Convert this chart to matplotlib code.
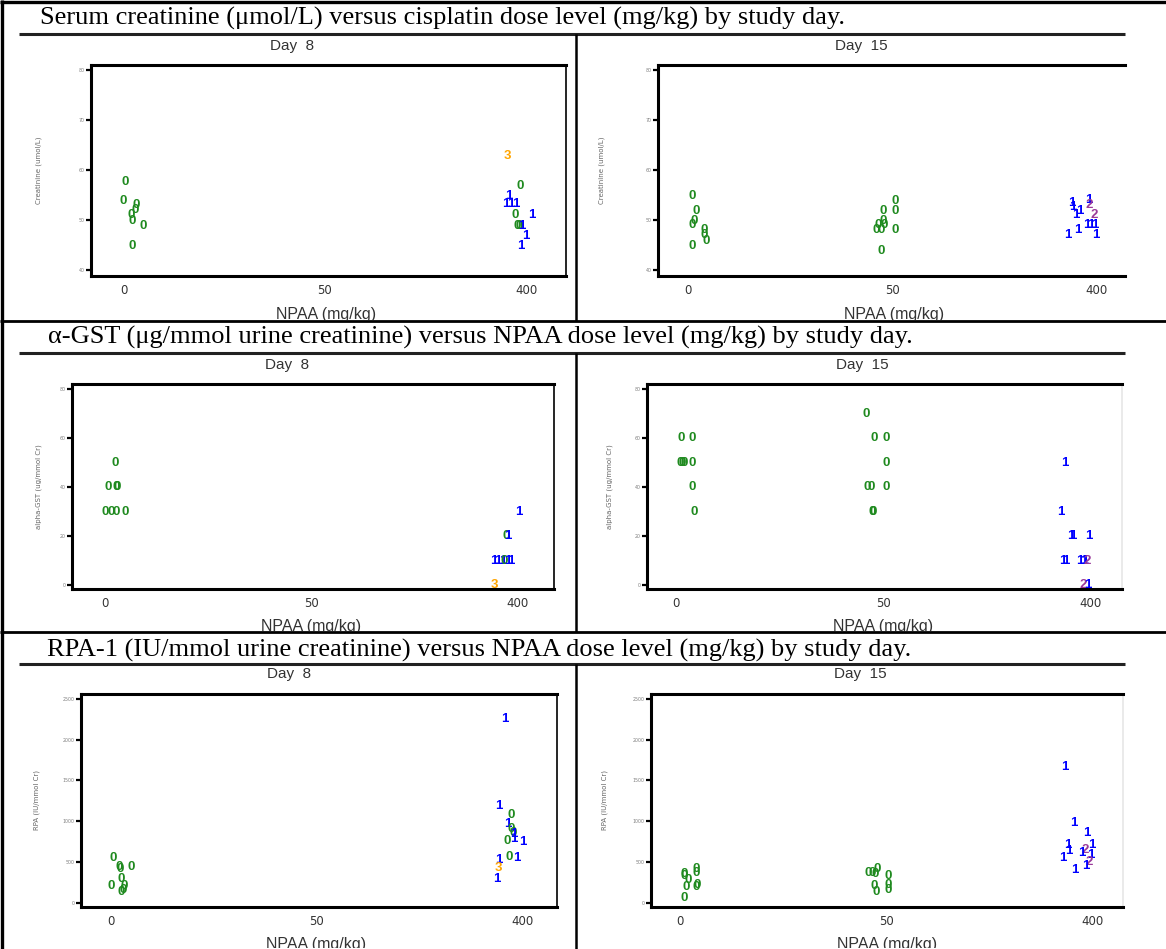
import matplotlib
matplotlib.use("Agg")
import matplotlib.pyplot as plt
from matplotlib.lines import Line2D
from matplotlib.transforms import Bbox, TransformedBbox

W, H = 1166, 949

doses = ["0", "50", "400"]
colours = {0: "#1f8a1f", 1: "#0000ff", 2: "#9a3b9a", 3: "#ffa500"}

captions = [
    "Serum creatinine (\u03bcmol/L) versus cisplatin dose level (mg/kg) by study day.",
    "\u03b1-GST (\u03bcg/mmol urine creatinine) versus NPAA dose level (mg/kg) by study day.",
    "RPA-1 (IU/mmol urine creatinine) versus NPAA dose level (mg/kg) by study day.",
]
ylabels = ["Creatinine (umol/L)", "alpha-GST (ug/mmol Cr)", "RPA (IU/mmol Cr)"]

# points: (dose index, jitter, value, group)
cr_day8 = [
    (0, 0.010, 57.6, 0), (0, 0.000, 53.8, 0), (0, 0.060, 53.0, 0), (0, 0.055, 51.9, 0),
    (0, 0.040, 51.0, 0), (0, 0.045, 49.7, 0), (0, 0.095, 48.8, 0), (0, 0.045, 44.7, 0),
    (2, -0.092, 62.7, 3), (2, -0.033, 56.8, 0), (2, -0.088, 54.8, 1), (2, -0.100, 53.2, 1),
    (2, -0.077, 53.2, 1), (2, -0.052, 53.2, 1), (2, -0.055, 50.9, 0), (2, 0.028, 50.9, 1),
    (2, -0.046, 48.8, 0), (2, -0.037, 48.8, 0), (2, -0.024, 48.8, 1), (2, -0.004, 46.8, 1),
    (2, -0.026, 44.8, 1),
]
cr_day15 = [
    (0, 0.020, 54.7, 0), (0, 0.042, 51.8, 0), (0, 0.031, 49.8, 0), (0, 0.020, 48.8, 0),
    (0, 0.083, 47.9, 0), (0, 0.083, 47.0, 0), (0, 0.090, 45.8, 0), (0, 0.022, 44.7, 0),
    (1, 0.015, 53.8, 0), (1, -0.044, 51.8, 0), (1, 0.015, 51.8, 0), (1, -0.044, 49.8, 0),
    (1, -0.068, 48.8, 0), (1, -0.040, 48.8, 0), (1, -0.079, 47.9, 0), (1, -0.055, 47.9, 0),
    (1, 0.015, 47.9, 0), (1, -0.053, 43.8, 0),
    (2, -0.123, 53.2, 1), (2, -0.116, 52.6, 1), (2, -0.086, 51.8, 1), (2, -0.105, 51.0, 1),
    (2, -0.039, 53.9, 1), (2, -0.039, 53.0, 2), (2, -0.015, 51.0, 2), (2, -0.051, 48.8, 1),
    (2, -0.028, 48.8, 1), (2, -0.009, 48.8, 1), (2, -0.092, 47.9, 1), (2, -0.142, 46.8, 1),
    (2, -0.006, 46.8, 1),
]
gst_day8 = [
    (0, 0.050, 50, 0), (0, 0.018, 40, 0), (0, 0.056, 40, 0), (0, 0.063, 40, 0),
    (0, 0.002, 30, 0), (0, 0.032, 30, 0), (0, 0.056, 30, 0), (0, 0.099, 30, 0),
    (2, 0.004, 30, 1), (2, -0.054, 20, 0), (2, -0.050, 20, 1), (2, -0.117, 10, 1),
    (2, -0.095, 10, 1), (2, -0.072, 10, 1), (2, -0.065, 10, 0), (2, -0.047, 10, 1),
    (2, -0.032, 10, 1), (2, -0.113, 0, 3),
]
gst_day15 = [
    (0, 0.022, 60, 0), (0, 0.078, 60, 0), (0, 0.018, 50, 0), (0, 0.027, 50, 0),
    (0, 0.036, 50, 0), (0, 0.078, 50, 0), (0, 0.078, 40, 0), (0, 0.087, 30, 0),
    (1, -0.084, 70, 0), (1, -0.045, 60, 0), (1, 0.013, 60, 0), (1, 0.013, 50, 0),
    (1, -0.078, 40, 0), (1, -0.058, 40, 0), (1, 0.013, 40, 0), (1, -0.053, 30, 0),
    (1, -0.049, 30, 0),
    (2, -0.124, 50, 1), (2, -0.142, 30, 1), (2, -0.093, 20, 1), (2, -0.087, 20, 1),
    (2, -0.005, 20, 1), (2, -0.133, 10, 1), (2, -0.118, 10, 1), (2, -0.051, 10, 1),
    (2, -0.033, 10, 1), (2, -0.025, 10, 1), (2, -0.015, 10, 2), (2, -0.033, 0, 2),
    (2, -0.011, 0, 1),
]
rpa_day8 = [
    (0, 0.013, 555, 0), (0, 0.045, 420, 0), (0, 0.040, 440, 0), (0, 0.100, 440, 0),
    (0, 0.050, 298, 0), (0, 0.000, 204, 0), (0, 0.063, 204, 0), (0, 0.058, 163, 0),
    (0, 0.050, 135, 0),
    (2, -0.086, 2255, 1), (2, -0.117, 1187, 1), (2, -0.059, 1081, 0), (2, -0.072, 971, 1),
    (2, -0.059, 909, 0), (2, -0.050, 861, 0), (2, -0.045, 848, 1), (2, -0.077, 759, 0),
    (2, -0.045, 787, 1), (2, 0.000, 746, 1), (2, -0.066, 563, 0), (2, -0.029, 555, 1),
    (2, -0.119, 530, 1), (2, -0.117, 432, 3), (2, -0.126, 294, 1),
]
rpa_day15 = [
    (0, 0.020, 360, 0), (0, 0.020, 327, 0), (0, 0.038, 278, 0), (0, 0.031, 196, 0),
    (0, 0.079, 421, 0), (0, 0.079, 368, 0), (0, 0.084, 217, 0), (0, 0.075, 196, 0),
    (0, 0.020, 57, 0),
    (1, -0.088, 372, 0), (1, -0.069, 372, 0), (1, -0.051, 360, 0), (1, -0.046, 421, 0),
    (1, -0.057, 205, 0), (1, -0.047, 135, 0), (1, 0.009, 327, 0), (1, 0.009, 217, 0),
    (1, 0.009, 155, 0),
    (2, -0.133, 1669, 1), (2, -0.091, 982, 1), (2, -0.027, 851, 1), (2, -0.120, 716, 1),
    (2, -0.113, 638, 1), (2, -0.141, 556, 1), (2, -0.002, 716, 1), (2, -0.033, 655, 2),
    (2, -0.051, 614, 1), (2, -0.005, 585, 1), (2, -0.015, 503, 2), (2, -0.082, 409, 1),
    (2, -0.033, 450, 1),
]

fig = plt.figure(figsize=(W / 100, H / 100), dpi=100)


def fx(x):
    return x / W


def fy(y):
    return 1 - y / H


def hline(y, x0, x1, lw=2.2, c="black"):
    fig.add_artist(Line2D([fx(x0), fx(x1)], [fy(y), fy(y)], lw=lw, color=c,
                          transform=fig.transFigure, solid_capstyle="butt"))


def vline(x, y0, y1, lw=2.2, c="black"):
    fig.add_artist(Line2D([fx(x), fx(x)], [fy(y0), fy(y1)], lw=lw, color=c,
                          transform=fig.transFigure, solid_capstyle="butt"))


def clipped_text(x, y, s, clip, **kw):
    t = fig.text(fx(x), fy(y), s, **kw)
    x0, y0, x1, y1 = clip
    bb = Bbox.from_extents(fx(x0), fy(y1), fx(x1), fy(y0))
    t.set_clip_box(TransformedBbox(bb, fig.transFigure))
    t.set_clip_on(True)
    return t


def panel(box, xlim, ylim, yticks, ylab, ylab_x, pts, right):
    x0, y0, x1, y1 = box
    ax = fig.add_axes([fx(x0), fy(y1), (x1 - x0) / W, (y1 - y0) / H])
    ax.set_xlim(*xlim)
    ax.set_ylim(*ylim)
    for s in ax.spines.values():
        s.set_linewidth(2.2)
        s.set_color("black")
    if right is None:
        ax.spines["right"].set_visible(False)
    else:
        ax.spines["right"].set_color(right)
        ax.spines["right"].set_linewidth(1.2)
    ax.set_xticks([0, 1, 2])
    ax.set_xticklabels(doses)
    ax.set_yticks(yticks)
    ax.tick_params(axis="x", length=0, pad=6, labelsize=8.5, labelcolor="#333333")
    ax.tick_params(axis="y", length=3.5, width=1.6, pad=1, labelsize=3.4,
                   labelcolor="#808080")
    for d, j, v, g in pts:
        ax.text(d + j, v, str(g), color=colours[g], fontsize=9.5, fontweight="bold",
                family="Liberation Sans", ha="center", va="center")
    fig.text(fx(ylab_x), fy((y0 + y1) / 2), ylab, rotation=90, fontsize=5,
             color="#666666", ha="center", va="center")
    return ax


# table frame
hline(1.5, 0, W, lw=2.4)
vline(1.5, 0, H, lw=2.4)
for y in (321, 632):
    hline(y, 0, W, lw=2.0)
rows = [(0, 34, 321), (321, 353, 632), (632, 664, H)]
cap_x = [40, 48, 47]
cap_y = [18, 337, 650]
for i, (top, ul, bot) in enumerate(rows):
    hline(ul, 19, 1125, lw=2.2, c="#222222")
    vline(576, ul, bot, lw=1.8)
    fig.text(fx(cap_x[i]), fy(cap_y[i]), captions[i], family="Liberation Serif",
             fontsize=19, ha="left", va="center", color="black")

ylim_cr = (38.8, 81.0)
ylim_gst = (-1.6, 82.2)
ylim_rpa = (-49, 2565)

panel((91, 64.5, 566, 276), (-0.162, 2.197), ylim_cr, [40, 50, 60, 70, 80],
      ylabels[0], 39, cr_day8, "black")
panel((658, 64.5, 1125, 275.5), (-0.145, 2.137), ylim_cr, [40, 50, 60, 70, 80],
      ylabels[0], 602, cr_day15, None)
panel((72, 384, 554, 589), (-0.157, 2.175), ylim_gst, [0, 20, 40, 60, 80],
      ylabels[1], 39, gst_day8, "black")
panel((647, 384, 1122, 589), (-0.142, 2.153), ylim_gst, [0, 20, 40, 60, 80],
      ylabels[1], 610, gst_day15, "#e6e6e6")
panel((80.5, 693.5, 557, 907), (-0.147, 2.165), ylim_rpa, [0, 500, 1000, 1500, 2000, 2500],
      ylabels[2], 37, rpa_day8, "black")
panel((651, 693.5, 1123, 907), (-0.142, 2.15), ylim_rpa, [0, 500, 1000, 1500, 2000, 2500],
      ylabels[2], 605, rpa_day15, "#e6e6e6")

# panel titles and x labels
day_x = [(292, 861), (287, 862), (289, 860)]
day_y = [46, 365, 674]
npaa_x = [(326, 894), (311, 883), (316, 887)]
npaa_y = [315, 627, 944]
for i, (top, ul, bot) in enumerate(rows):
    for k, lab in enumerate(["Day  8", "Day  15"]):
        fig.text(fx(day_x[i][k]), fy(day_y[i]), lab, fontsize=11, color="#333333",
                 ha="center", va="center", family="Liberation Sans")
        clipped_text(npaa_x[i][k], npaa_y[i], "NPAA (mg/kg)", (0, ul, W, bot - 1),
                     fontsize=11.5, color="#333333", ha="center", va="center",
                     family="Liberation Sans")

fig.savefig("out.png", dpi=100)
